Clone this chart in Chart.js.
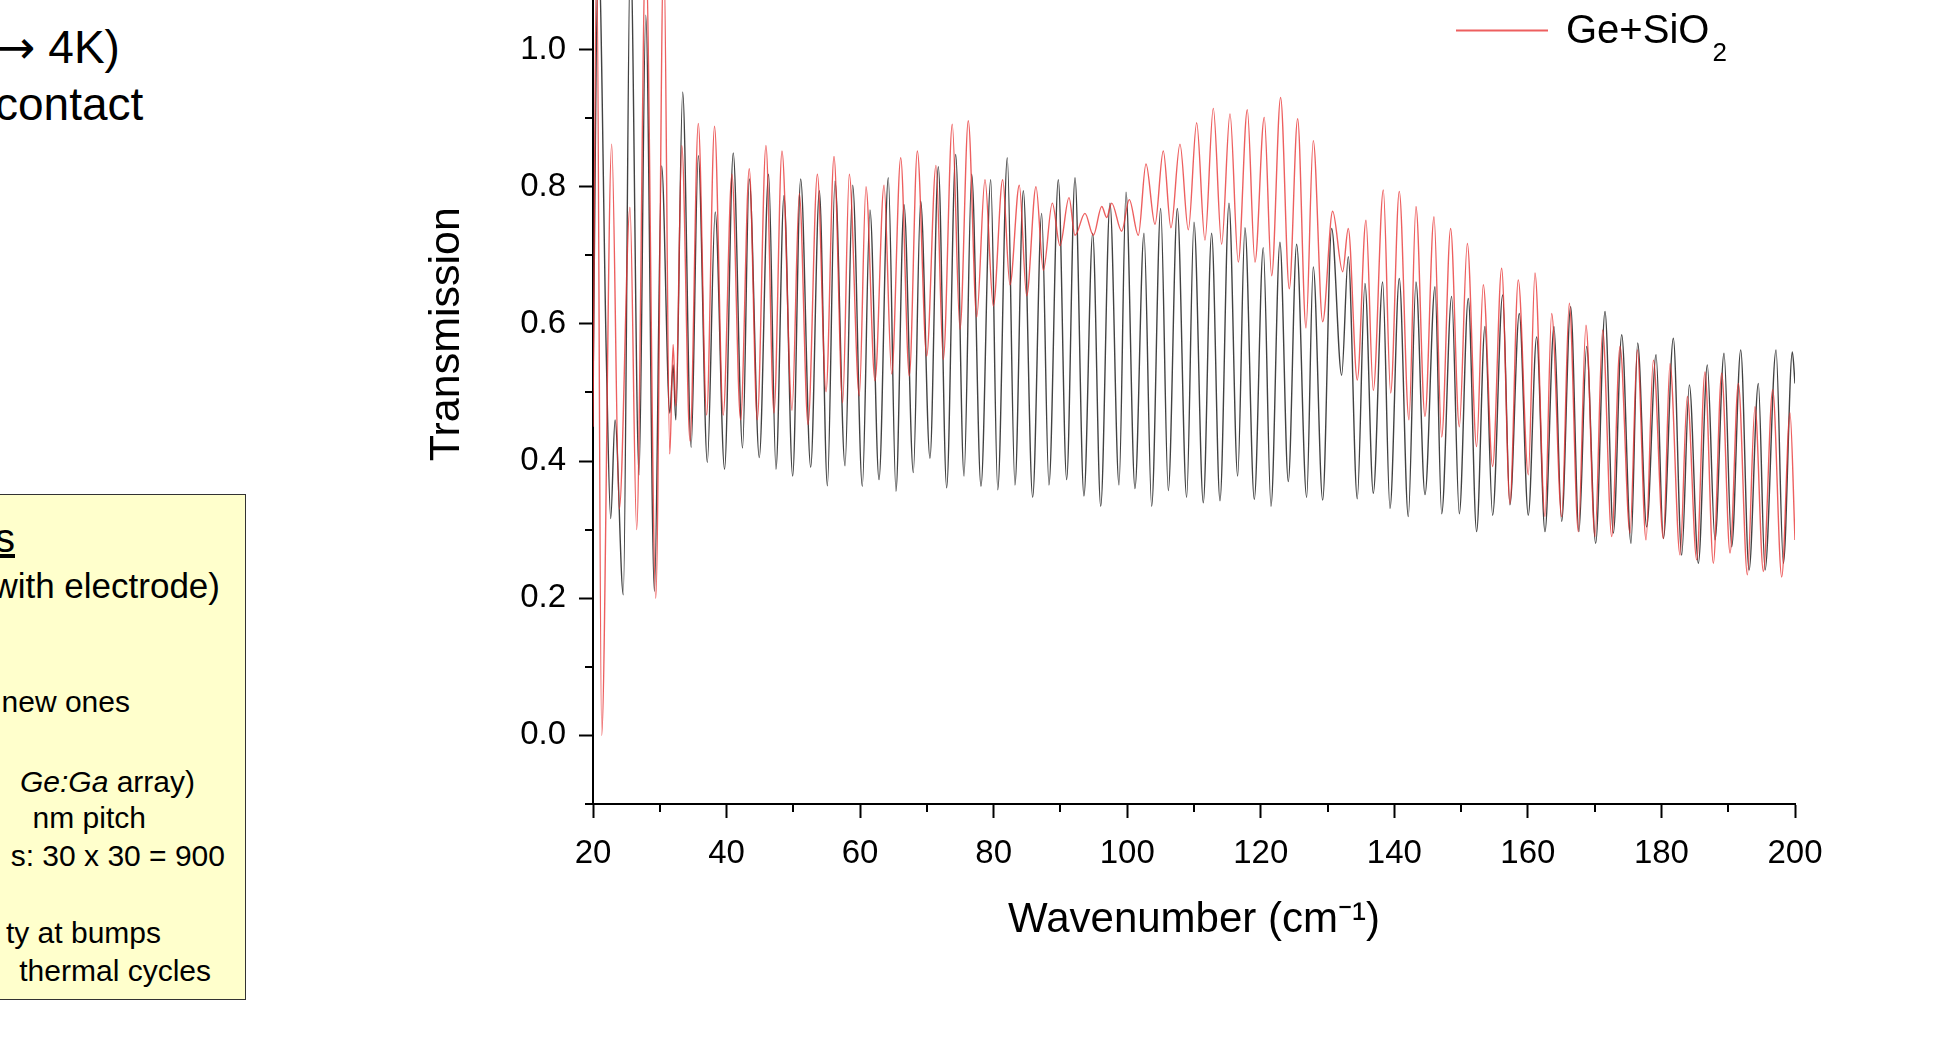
<!DOCTYPE html>
<html>
<head>
<meta charset="utf-8">
<script src="https://cdn.jsdelivr.net/npm/chart.js@4.4.1/dist/chart.umd.min.js"></script>
<style>
  html, body { margin: 0; padding: 0; background: #fff; overflow: hidden; }
  body { width: 1938px; height: 1037px; position: relative; font-family: 'Liberation Sans', Arial, sans-serif; color: #000; }
  #spectrum { position: absolute; left: 380px; top: -200px; }
  .line { position: absolute; white-space: nowrap; line-height: 1; }
  .arrow { font-family: 'DejaVu Sans', sans-serif; }
  .note { position: absolute; left: -10px; top: 494px; width: 256px; height: 506px; background: #ffffcc; border: 1.5px solid #333; box-sizing: border-box; }
</style>
</head>
<body>

<div class="line" style="left:-3px; top:24px; font-size:46px;"><span class="arrow">→</span> 4K)</div>
<div class="line" style="left:-5px; top:81px; font-size:46px;">contact</div>

<div class="note"></div>
<div class="line" style="right:1923px; top:518px; font-size:40px; text-decoration:underline;">s</div>
<div class="line" style="right:1718px; top:568px; font-size:35px;">with electrode)</div>
<div class="line" style="right:1808px; top:687px; font-size:30px;">new ones</div>
<div class="line" style="right:1743px; top:767px; font-size:30px;"><i>Ge:Ga</i> array)</div>
<div class="line" style="right:1792px; top:803px; font-size:30px;">nm pitch</div>
<div class="line" style="right:1713px; top:841px; font-size:30px;">s: 30 x 30 = 900</div>
<div class="line" style="right:1777px; top:918px; font-size:30px;">ty at bumps</div>
<div class="line" style="right:1727px; top:956px; font-size:30px;">thermal cycles</div>

<canvas id="spectrum" width="1558" height="1237"></canvas>

<script>
// Transmission spectra, turning points of the fringes (wavenumber in cm^-1)
const geWavenumber = [
  20.0, 20.8, 22.0, 22.65, 23.3, 24.54, 25.6, 26.9, 27.9, 29.2, 30.28, 31.5, 32.0, 32.4,
  33.43, 34.7, 35.77, 37.12, 38.3, 39.7, 41.0, 42.4, 43.4, 44.9, 46.3, 47.4, 48.6, 49.9,
  51.1, 52.6, 53.9, 55.1, 56.24, 57.74, 58.89, 60.33, 61.48, 62.83, 64.22, 65.37, 66.57, 67.97,
  69.07, 70.46, 71.71, 72.96, 74.31, 75.56, 76.71, 78.1, 79.56, 80.61, 82.04, 83.19, 84.44, 85.84,
  87.19, 88.28, 89.68, 90.93, 92.18, 93.52, 94.83, 96.03, 97.42, 98.77, 99.82, 101.16, 102.51, 103.66,
  105.01, 106.15, 107.5, 108.9, 110.0, 111.39, 112.64, 113.89, 115.24, 116.54, 117.63, 119.03, 120.37, 121.53,
  122.87, 124.12, 125.37, 126.87, 127.86, 129.27, 130.61, 132.11, 133.1, 134.45, 135.6, 136.85, 138.25, 139.35,
  140.74, 142.09, 143.24, 144.59, 146.09, 147.09, 148.58, 149.73, 151.07, 152.32, 153.57, 154.72, 156.22, 157.31,
  158.71, 160.06, 161.31, 162.56, 163.91, 165.06, 166.4, 167.65, 168.8, 170.15, 171.55, 172.8, 174.05, 175.44,
  176.44, 177.79, 179.19, 180.29, 181.78, 183.03, 184.18, 185.53, 186.87, 188.02, 189.37, 190.52, 191.87, 193.12,
  194.51, 195.51, 197.16, 198.26, 199.6, 200.0
];
const geTransmission = [
  0.50, 1.15, 0.55, 0.316, 0.46, 0.205, 1.15, 0.38, 1.05, 0.21, 0.83, 0.47, 0.54, 0.46,
  0.938, 0.42, 0.845, 0.398, 0.763, 0.388, 0.849, 0.419, 0.811, 0.405, 0.818, 0.388, 0.787, 0.378,
  0.811, 0.391, 0.794, 0.364, 0.808, 0.393, 0.802, 0.363, 0.766, 0.373, 0.813, 0.356, 0.774, 0.383,
  0.779, 0.404, 0.829, 0.361, 0.847, 0.378, 0.818, 0.363, 0.810, 0.358, 0.842, 0.365, 0.794, 0.347,
  0.761, 0.365, 0.810, 0.373, 0.813, 0.349, 0.732, 0.334, 0.776, 0.365, 0.792, 0.360, 0.732, 0.334,
  0.768, 0.357, 0.768, 0.347, 0.748, 0.339, 0.732, 0.342, 0.776, 0.378, 0.740, 0.344, 0.711, 0.334,
  0.719, 0.370, 0.716, 0.347, 0.683, 0.343, 0.739, 0.525, 0.698, 0.345, 0.659, 0.353, 0.661, 0.331,
  0.666, 0.319, 0.661, 0.351, 0.654, 0.323, 0.640, 0.323, 0.637, 0.297, 0.596, 0.321, 0.642, 0.336,
  0.615, 0.321, 0.581, 0.297, 0.596, 0.312, 0.625, 0.297, 0.567, 0.280, 0.618, 0.295, 0.584, 0.280,
  0.572, 0.304, 0.555, 0.287, 0.579, 0.263, 0.511, 0.251, 0.540, 0.285, 0.557, 0.275, 0.562, 0.241,
  0.513, 0.241, 0.562, 0.251, 0.559, 0.513
];

const coatedWavenumber = [
  20.0, 20.55, 21.3, 22.8, 23.94, 25.54, 26.54, 27.9, 29.4, 30.6, 31.5, 32.0, 32.4, 33.3,
  34.53, 35.77, 37.02, 38.2, 39.5, 40.8, 42.1, 43.4, 44.6, 45.9, 47.1, 48.3, 49.8, 50.9,
  52.2, 53.6, 54.9, 56.09, 57.39, 58.38, 59.88, 60.88, 62.23, 63.58, 64.73, 66.08, 67.37, 68.57,
  69.97, 71.36, 72.46, 73.8, 74.96, 76.2, 77.46, 78.7, 79.95, 81.35, 82.44, 83.84, 84.94, 86.34,
  87.44, 88.78, 89.93, 91.28, 92.18, 93.67, 94.93, 96.18, 96.93, 97.67, 99.17, 100.31, 101.66, 102.81,
  104.16, 105.4, 106.55, 107.9, 109.15, 110.4, 111.64, 112.89, 114.14, 115.39, 116.63, 117.98, 119.13, 120.52,
  121.63, 122.97, 124.27, 125.52, 126.77, 127.86, 129.27, 130.76, 132.26, 133.1, 134.45, 135.75, 136.85, 138.35,
  139.45, 140.74, 142.19, 143.24, 144.59, 145.94, 147.09, 148.43, 149.73, 150.93, 152.32, 153.32, 154.72, 156.07,
  157.31, 158.56, 160.06, 161.06, 162.56, 163.56, 165.06, 166.2, 167.55, 168.7, 170.05, 171.2, 172.55, 173.8,
  175.29, 176.39, 177.69, 178.79, 180.29, 181.28, 182.78, 183.88, 185.28, 186.52, 187.77, 189.02, 190.27, 191.52,
  192.87, 194.01, 195.26, 196.66, 198.01, 199.25, 200.0
];
const coatedTransmission = [
  0.45, 1.15, 0.0, 0.862, 0.33, 0.77, 0.30, 1.15, 0.20, 1.15, 0.41, 0.57, 0.48, 0.86,
  0.429, 0.892, 0.467, 0.888, 0.467, 0.818, 0.460, 0.826, 0.460, 0.860, 0.470, 0.852, 0.474, 0.790,
  0.453, 0.818, 0.501, 0.844, 0.485, 0.818, 0.495, 0.800, 0.517, 0.802, 0.527, 0.842, 0.524, 0.852,
  0.553, 0.831, 0.548, 0.891, 0.592, 0.896, 0.610, 0.810, 0.626, 0.810, 0.657, 0.802, 0.641, 0.800,
  0.678, 0.776, 0.714, 0.784, 0.729, 0.761, 0.729, 0.771, 0.755, 0.776, 0.735, 0.781, 0.729, 0.833,
  0.745, 0.852, 0.740, 0.862, 0.737, 0.893, 0.722, 0.914, 0.716, 0.906, 0.690, 0.912, 0.690, 0.901,
  0.670, 0.930, 0.651, 0.899, 0.594, 0.867, 0.603, 0.764, 0.676, 0.739, 0.518, 0.751, 0.503, 0.795,
  0.499, 0.793, 0.460, 0.771, 0.465, 0.756, 0.435, 0.739, 0.450, 0.717, 0.421, 0.657, 0.392, 0.681,
  0.338, 0.664, 0.380, 0.674, 0.319, 0.615, 0.319, 0.630, 0.297, 0.598, 0.290, 0.591, 0.290, 0.567,
  0.295, 0.562, 0.285, 0.547, 0.287, 0.542, 0.263, 0.494, 0.256, 0.530, 0.251, 0.528, 0.266, 0.513,
  0.234, 0.479, 0.239, 0.504, 0.231, 0.470, 0.285
];

const xMajor = [20, 40, 60, 80, 100, 120, 140, 160, 180, 200];
const xMinor = [30, 50, 70, 90, 110, 130, 150, 170, 190];
const yMajor = [0.0, 0.2, 0.4, 0.6, 0.8, 1.0];
const yMinor = [-0.1, 0.1, 0.3, 0.5, 0.7, 0.9, 1.1];

const FONT = "'Liberation Sans', Arial, sans-serif";

function toPoints(xs, ys) {
  return xs.map((x, i) => ({ x: x, y: ys[i] }));
}

// short ticks between the labelled ones
const minorTicks = {
  id: 'minorTicks',
  afterDraw(chart) {
    const { ctx, chartArea } = chart;
    const x = chart.scales.x, y = chart.scales.y;
    ctx.save();
    ctx.strokeStyle = '#000';
    ctx.lineWidth = 2;
    ctx.beginPath();
    xMinor.forEach(v => {
      const px = Math.round(x.getPixelForValue(v));
      ctx.moveTo(px, chartArea.bottom);
      ctx.lineTo(px, chartArea.bottom + 8);
    });
    yMinor.forEach(v => {
      const py = Math.round(y.getPixelForValue(v));
      ctx.moveTo(chartArea.left, py);
      ctx.lineTo(chartArea.left - 8, py);
    });
    ctx.stroke();
    ctx.restore();
  }
};

// legend stacked upward from the last series, inside the top-right corner
const seriesLegend = {
  id: 'seriesLegend',
  afterDraw(chart) {
    const ctx = chart.ctx;
    const sets = chart.data.datasets;
    const lineStart = chart.chartArea.right - 339;
    const baseRow = chart.scales.y.getPixelForValue(1.0) - 19;
    ctx.save();
    sets.forEach((ds, i) => {
      const rowY = baseRow - (sets.length - 1 - i) * 52;
      ctx.strokeStyle = ds.borderColor;
      ctx.lineWidth = 2;
      ctx.beginPath();
      ctx.moveTo(lineStart, rowY);
      ctx.lineTo(lineStart + 92, rowY);
      ctx.stroke();

      const parts = ds.label.split('₂');
      ctx.fillStyle = '#000';
      ctx.textBaseline = 'middle';
      ctx.font = '40px ' + FONT;
      ctx.fillText(parts[0], lineStart + 110, rowY + 2);
      if (parts.length > 1) {
        const w = ctx.measureText(parts[0]).width;
        ctx.font = '26px ' + FONT;
        ctx.fillText('2', lineStart + 113 + w, rowY + 23);
      }
    });
    ctx.restore();
  }
};

new Chart(document.getElementById('spectrum'), {
  type: 'line',
  data: {
    datasets: [
      {
        label: 'Ge',
        data: toPoints(geWavenumber, geTransmission),
        borderColor: 'rgba(25, 25, 25, 0.82)',
        borderWidth: 1.4,
        pointRadius: 0,
        cubicInterpolationMode: 'monotone',
        order: 2
      },
      {
        label: 'Ge+SiO₂',
        data: toPoints(coatedWavenumber, coatedTransmission),
        borderColor: 'rgba(232, 50, 50, 0.78)',
        borderWidth: 1.4,
        pointRadius: 0,
        cubicInterpolationMode: 'monotone',
        order: 1
      }
    ]
  },
  options: {
    responsive: false,
    devicePixelRatio: 1,
    animation: false,
    layout: { padding: { left: 41, right: 143, top: 64.2, bottom: 33 } },
    plugins: {
      legend: { display: false },
      tooltip: { enabled: false }
    },
    scales: {
      x: {
        type: 'linear',
        min: 20,
        max: 200,
        afterBuildTicks: scale => { scale.ticks = xMajor.map(v => ({ value: v })); },
        afterFit: scale => { scale.height = 200; },
        grid: { drawOnChartArea: false, drawTicks: true, tickLength: 14, tickWidth: 2, tickColor: '#000' },
        border: { display: true, color: '#000', width: 2 },
        ticks: {
          color: '#000',
          padding: 16,
          maxRotation: 0,
          font: { family: FONT, size: 33 },
          callback: v => String(v)
        },
        title: {
          display: true,
          text: 'Wavenumber (cm⁻¹)',
          color: '#000',
          font: { family: FONT, size: 42 },
          padding: { top: 0, bottom: 58 }
        }
      },
      y: {
        min: -0.1,
        max: 1.27,
        afterBuildTicks: scale => { scale.ticks = yMajor.map(v => ({ value: v })); },
        afterFit: scale => { scale.width = 172; },
        grid: { drawOnChartArea: false, drawTicks: true, tickLength: 14, tickWidth: 2, tickColor: '#000' },
        border: { display: true, color: '#000', width: 2 },
        ticks: {
          color: '#000',
          padding: 13,
          font: { family: FONT, size: 33 },
          callback: v => Number(v).toFixed(1)
        },
        title: {
          display: true,
          text: 'Transmission',
          color: '#000',
          font: { family: FONT, size: 43 },
          padding: { top: 0, bottom: 0 }
        }
      }
    }
  },
  plugins: [minorTicks, seriesLegend]
});
</script>
</body>
</html>
